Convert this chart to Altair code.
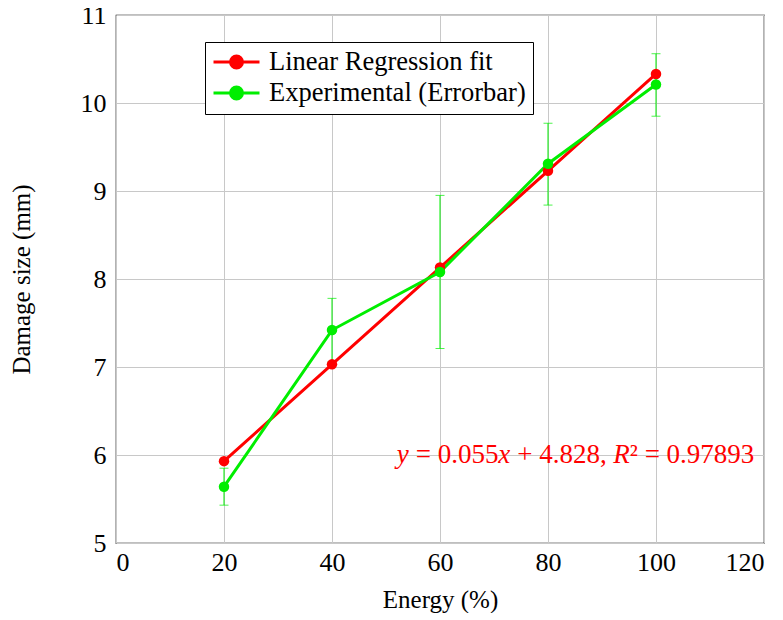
import altair as alt
import pandas as pd

energy = [20, 40, 60, 80, 100]
fit_vals = [5.93, 7.03, 8.13, 9.23, 10.33]
exp_vals = [5.64, 7.42, 8.08, 9.31, 10.21]
err_lo = [5.43, 7.06, 7.21, 8.84, 9.85]
err_hi = [5.85, 7.78, 8.95, 9.77, 10.56]
series_names = ["Linear Regression fit", "Experimental (Errorbar)"]
series_colors = ["#ff0000", "#00ee00"]
# equation pieces: text, italic flag, horizontal offset in px from start
eq_pieces = ["y", "= 0.055", "x", "+ 4.828,", "R", "\u00b2 = 0.97893"]
eq_italic = [True, False, True, False, True, False]
eq_dx = [0, 19.0, 101.5, 120.5, 216.5, 233.0]
eq_anchor_x = [52]
eq_anchor_y = [6.0]

rows = []
for e, v in zip(energy, fit_vals):
    rows.append({"energy": e, "value": v, "series": series_names[0]})
for e, v in zip(energy, exp_vals):
    rows.append({"energy": e, "value": v, "series": series_names[1]})
df = pd.DataFrame(rows)
err_df = pd.DataFrame({"energy": energy, "lo": err_lo, "hi": err_hi})

FONT = "Liberation Serif"
xscale = alt.Scale(domain=[0, 120], nice=False, zero=False)
yscale = alt.Scale(domain=[5, 11], nice=False, zero=False)

x_enc = alt.X("energy:Q", scale=xscale, title="Energy (%)",
              axis=alt.Axis(values=[0, 20, 40, 60, 80, 100, 120], format="d"))
y_enc = alt.Y("value:Q", scale=yscale, title="Damage size (mm)",
              axis=alt.Axis(values=[5, 6, 7, 8, 9, 10, 11], format="d"))

sym_path = "M-1,0H1M0.26,0A0.26,0.26 0 1,1 -0.26,0A0.26,0.26 0 1,1 0.26,0Z"

color = alt.Color("series:N",
                  scale=alt.Scale(domain=series_names, range=series_colors),
                  legend=alt.Legend(title=None, orient="none", legendX=89, legendY=27,
                                    fillColor="white", strokeColor="black",
                                    padding=7, symbolType=sym_path, symbolSize=2116,
                                    symbolStrokeWidth=3, labelFont=FONT, labelFontSize=26.5,
                                    labelColor="black", labelOffset=8, rowPadding=4,
                                    clipHeight=26, labelLimit=400))

err_rule = alt.Chart(err_df).mark_rule(color="#00ee00", strokeWidth=1).encode(
    x=alt.X("energy:Q", scale=xscale), y=alt.Y("lo:Q", scale=yscale), y2="hi:Q")
err_tick_lo = alt.Chart(err_df).mark_tick(color="#00ee00", orient="horizontal", size=9, thickness=1).encode(
    x=alt.X("energy:Q", scale=xscale), y=alt.Y("lo:Q", scale=yscale))
err_tick_hi = alt.Chart(err_df).mark_tick(color="#00ee00", orient="horizontal", size=9, thickness=1).encode(
    x=alt.X("energy:Q", scale=xscale), y=alt.Y("hi:Q", scale=yscale))

lines = alt.Chart(df).mark_line(strokeWidth=3, point=alt.OverlayMarkDef(size=110, filled=True, opacity=1)).encode(
    x=x_enc, y=y_enc, color=color, order=alt.Order("energy:Q"))

eq_layers = []
for txt, ital, dx in zip(eq_pieces, eq_italic, eq_dx):
    piece_df = pd.DataFrame({"energy": eq_anchor_x, "value": eq_anchor_y, "label": [txt]})
    eq_layers.append(
        alt.Chart(piece_df).mark_text(font=FONT, fontSize=27, color="#ff0000", align="left",
                                      baseline="middle", dx=dx,
                                      fontStyle="italic" if ital else "normal").encode(
            x=alt.X("energy:Q", scale=xscale), y=alt.Y("value:Q", scale=yscale), text="label:N"))

chart = alt.layer(err_rule, err_tick_lo, err_tick_hi, lines, *eq_layers).properties(
    width=648, height=528,
    autosize=alt.AutoSizeParams(type="none"),
    padding={"left": 108, "top": 7, "right": 11, "bottom": 70},
).configure_view(stroke="black", strokeWidth=1.2).configure_axis(
    labelFont=FONT, titleFont=FONT, labelFontSize=26, titleFontSize=25,
    labelColor="black", titleColor="black", titleFontWeight="normal",
    grid=True, gridColor="#c8c8c8", gridWidth=1, domain=False,
    ticks=False,
).configure_axisX(labelPadding=6, titlePadding=12, labelAngle=0
).configure_axisY(labelPadding=10, titlePadding=46, labelAngle=0)

chart.save("out.html", embed_options={"renderer": "svg", "actions": False})
